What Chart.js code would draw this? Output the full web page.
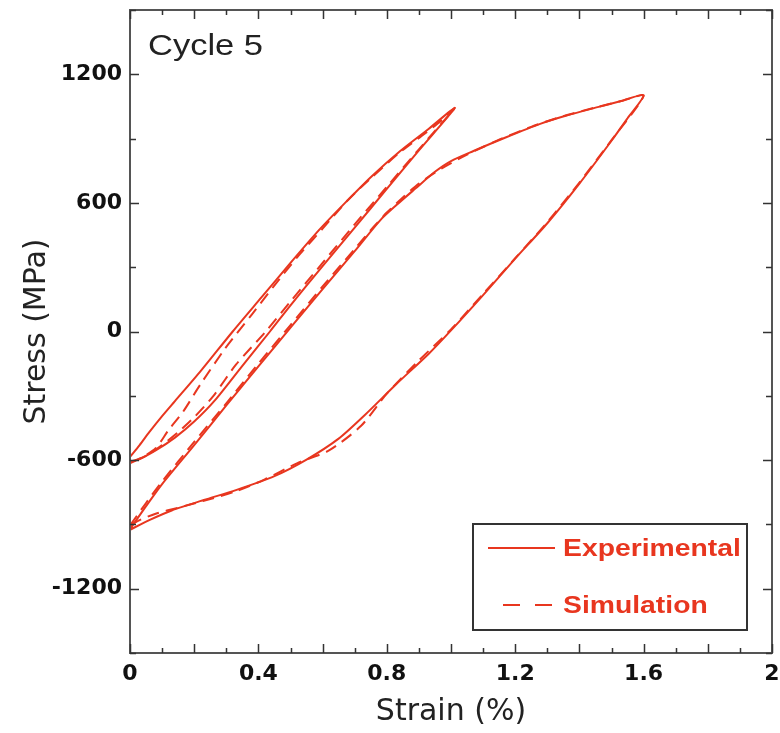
<!DOCTYPE html>
<html>
<head>
<meta charset="utf-8">
<script src="https://cdn.jsdelivr.net/npm/chart.js@4.4.0/dist/chart.umd.min.js"></script>
<style>
  html, body { margin: 0; padding: 0; background: #ffffff; }
  #wrap { width: 780px; height: 733px; }
</style>
</head>
<body>
<div id="wrap"><canvas id="chart" width="780" height="733"></canvas></div>
<script>
// Axis tick labels
const strainTicks = [0, 0.4, 0.8, 1.2, 1.6, 2];
const stressTicks = [-1200, -600, 0, 600, 1200];

// Experimental, small loop (0 -> 1.0 % -> 0)
const expSmallStrain = [0.0, 0.03, 0.06, 0.10, 0.14, 0.22, 0.32, 0.41, 0.50, 0.59, 0.67, 0.75, 0.84, 0.93, 1.012,
                        0.90, 0.80, 0.70, 0.60, 0.50, 0.436, 0.35, 0.265, 0.20, 0.14, 0.08, 0.03, 0.0];
const expSmallStress = [-585, -530, -470, -395, -325, -185, 0, 160, 320, 475, 600, 720, 840, 945, 1043,
                        845, 665, 485, 305, 122, 0, -160, -320, -420, -495, -555, -595, -607];

// Experimental, large loop (0 -> 1.6 % -> 0)
const expLargeStrain = [0.0, 0.05, 0.10, 0.20, 0.30, 0.40, 0.50, 0.60, 0.70, 0.78, 0.83, 0.89, 0.95, 1.00, 1.07, 1.17, 1.28, 1.36, 1.46, 1.53, 1.60,
                        1.55, 1.50, 1.40, 1.30, 1.20, 1.10, 1.00, 0.93, 0.83, 0.73, 0.65, 0.55, 0.45, 0.33, 0.23, 0.13, 0.06, 0.0];
const expLargeStress = [-922, -815, -712, -530, -345, -163, 18, 198, 375, 520, 590, 668, 745, 795, 842, 905, 970, 1008, 1048, 1075, 1102,
                        995, 890, 690, 505, 340, 170, 5, -105, -245, -392, -500, -598, -675, -740, -786, -835, -880, -925];

// Simulation, small loop
const simSmallStrain = [0.0, 0.04, 0.08, 0.12, 0.165, 0.218, 0.296, 0.38, 0.45, 0.52, 0.60, 0.68, 0.75, 0.84, 0.92, 0.97, 1.01,
                        0.90, 0.80, 0.70, 0.60, 0.50, 0.42, 0.33, 0.26, 0.20, 0.15, 0.10, 0.05, 0.0];
const simSmallStress = [-615, -585, -545, -460, -375, -250, -80, 80, 215, 345, 480, 615, 715, 835, 925, 985, 1040,
                        850, 675, 500, 320, 140, -5, -155, -300, -400, -470, -530, -580, -612];

// Simulation, large loop
const simLargeStrain = [0.0, 0.05, 0.10, 0.20, 0.30, 0.40, 0.50, 0.60, 0.70, 0.76, 0.80, 0.85, 0.90, 0.97, 1.05, 1.15, 1.25, 1.35, 1.45, 1.53, 1.60,
                        1.50, 1.40, 1.30, 1.20, 1.10, 1.00, 0.90, 0.80, 0.72, 0.62, 0.52, 0.42, 0.33, 0.23, 0.15, 0.08, 0.03, 0.0];
const simLargeStress = [-905, -800, -700, -515, -335, -150, 30, 210, 385, 490, 555, 625, 690, 760, 825, 895, 955, 1005, 1045, 1075, 1100,
                        893, 695, 510, 342, 175, 10, -135, -290, -440, -555, -615, -690, -745, -790, -822, -850, -880, -905];

const RED = '#e8361f';

function toPoints(xs, ys) {
  return xs.map((x, i) => ({ x: x, y: ys[i] }));
}

// Frame, inward tick marks, panel label and legend box
const framePlugin = {
  id: 'frame',
  afterDatasetsDraw(chart) {
    const { ctx, chartArea: a, scales: { x, y } } = chart;
    ctx.save();
    ctx.strokeStyle = '#555';
    ctx.lineWidth = 2;
    ctx.strokeRect(a.left, a.top, a.right - a.left, a.bottom - a.top);

    ctx.strokeStyle = '#333';
    ctx.lineWidth = 1.5;
    ctx.beginPath();
    for (let i = 0; i <= 20; i++) {
      const v = i / 10;
      const px = Math.round(x.getPixelForValue(v)) + 0.5;
      const len = (i % 2 === 0) ? 9 : 5;
      ctx.moveTo(px, a.bottom); ctx.lineTo(px, a.bottom - len);
      ctx.moveTo(px, a.top); ctx.lineTo(px, a.top + len);
    }
    for (let v = -1500; v <= 1500; v += 300) {
      const py = Math.round(y.getPixelForValue(v)) + 0.5;
      const len = (v % 600 === 0) ? 9 : 6;
      ctx.moveTo(a.left, py); ctx.lineTo(a.left + len, py);
      ctx.moveTo(a.right, py); ctx.lineTo(a.right - len, py);
    }
    ctx.stroke();
    ctx.restore();
  },
  afterDraw(chart) {
    const { ctx, chartArea: a } = chart;
    ctx.save();
    // panel label
    ctx.fillStyle = '#222';
    ctx.textBaseline = 'alphabetic';
    ctx.textAlign = 'left';
    ctx.translate(a.left + 18, a.top + 45);
    ctx.scale(1.15, 1);
    ctx.font = '30px "Liberation Sans", Arial, sans-serif';
    ctx.fillText('Cycle 5', 0, 0);
    ctx.restore();

    // legend
    const bx = a.right - 299, by = a.bottom - 129, bw = 274, bh = 106;
    ctx.save();
    ctx.strokeStyle = '#333';
    ctx.lineWidth = 2;
    ctx.strokeRect(bx, by, bw, bh);
    ctx.strokeStyle = RED;
    ctx.lineWidth = 2;
    ctx.beginPath();
    ctx.moveTo(bx + 15, by + 24); ctx.lineTo(bx + 82, by + 24);
    ctx.stroke();
    ctx.beginPath();
    ctx.moveTo(bx + 30, by + 81); ctx.lineTo(bx + 47, by + 81);
    ctx.moveTo(bx + 62, by + 81); ctx.lineTo(bx + 79, by + 81);
    ctx.stroke();
    ctx.fillStyle = RED;
    ctx.textBaseline = 'middle';
    ctx.font = 'bold 24px "Liberation Sans", Arial, sans-serif';
    ctx.save();
    ctx.translate(bx + 90, by + 25);
    ctx.scale(1.18, 1);
    ctx.fillText('Experimental', 0, 0);
    ctx.restore();
    ctx.save();
    ctx.translate(bx + 90, by + 82);
    ctx.scale(1.18, 1);
    ctx.fillText('Simulation', 0, 0);
    ctx.restore();
    ctx.restore();
  }
};

const solid = { borderColor: RED, borderWidth: 2, pointRadius: 0, showLine: true, tension: 0.25, fill: false };
const dashed = { borderColor: RED, borderWidth: 2, pointRadius: 0, showLine: true, tension: 0.25, fill: false, borderDash: [12, 7] };

new Chart(document.getElementById('chart'), {
  type: 'scatter',
  data: {
    datasets: [
      Object.assign({ label: 'Experimental', data: toPoints(expSmallStrain, expSmallStress) }, solid),
      Object.assign({ label: 'Experimental', data: toPoints(expLargeStrain, expLargeStress) }, solid),
      Object.assign({ label: 'Simulation', data: toPoints(simSmallStrain, simSmallStress) }, dashed),
      Object.assign({ label: 'Simulation', data: toPoints(simLargeStrain, simLargeStress) }, dashed)
    ]
  },
  options: {
    responsive: false,
    animation: false,
    devicePixelRatio: 1,
    layout: { padding: { top: 10, right: 8, left: 0, bottom: 0 } },
    plugins: { legend: { display: false }, tooltip: { enabled: false } },
    scales: {
      x: {
        type: 'linear', min: 0, max: 2,
        afterBuildTicks: (s) => { s.ticks = strainTicks.map(v => ({ value: v })); },
        afterFit: (s) => { s.height = 80; s.paddingLeft = 0; s.paddingRight = 0; },
        grid: { display: false, drawTicks: false, tickLength: 0 },
        border: { display: false },
        ticks: {
          padding: 8, color: '#111', maxRotation: 0,
          font: { family: 'DejaVu Sans', weight: 'bold', size: 22 },
          callback: (v) => String(v)
        },
        title: {
          display: true, text: 'Strain (%)', color: '#222',
          font: { family: 'DejaVu Sans', size: 30, weight: 'normal' },
          padding: { top: 0, bottom: 3 }
        }
      },
      y: {
        type: 'linear', min: -1500, max: 1500,
        afterBuildTicks: (s) => { s.ticks = stressTicks.map(v => ({ value: v })); },
        afterFit: (s) => { s.width = 130; s.paddingTop = 0; s.paddingBottom = 0; },
        grid: { display: false, drawTicks: false, tickLength: 0 },
        border: { display: false },
        ticks: {
          padding: 8, color: '#111',
          font: { family: 'DejaVu Sans', weight: 'bold', size: 22 },
          callback: (v) => String(v)
        },
        title: {
          display: true, text: 'Stress (MPa)', color: '#222',
          font: { family: 'DejaVu Sans', size: 30, weight: 'normal' },
          padding: { top: 19, bottom: 0 }
        }
      }
    }
  },
  plugins: [framePlugin]
});
</script>
</body>
</html>
